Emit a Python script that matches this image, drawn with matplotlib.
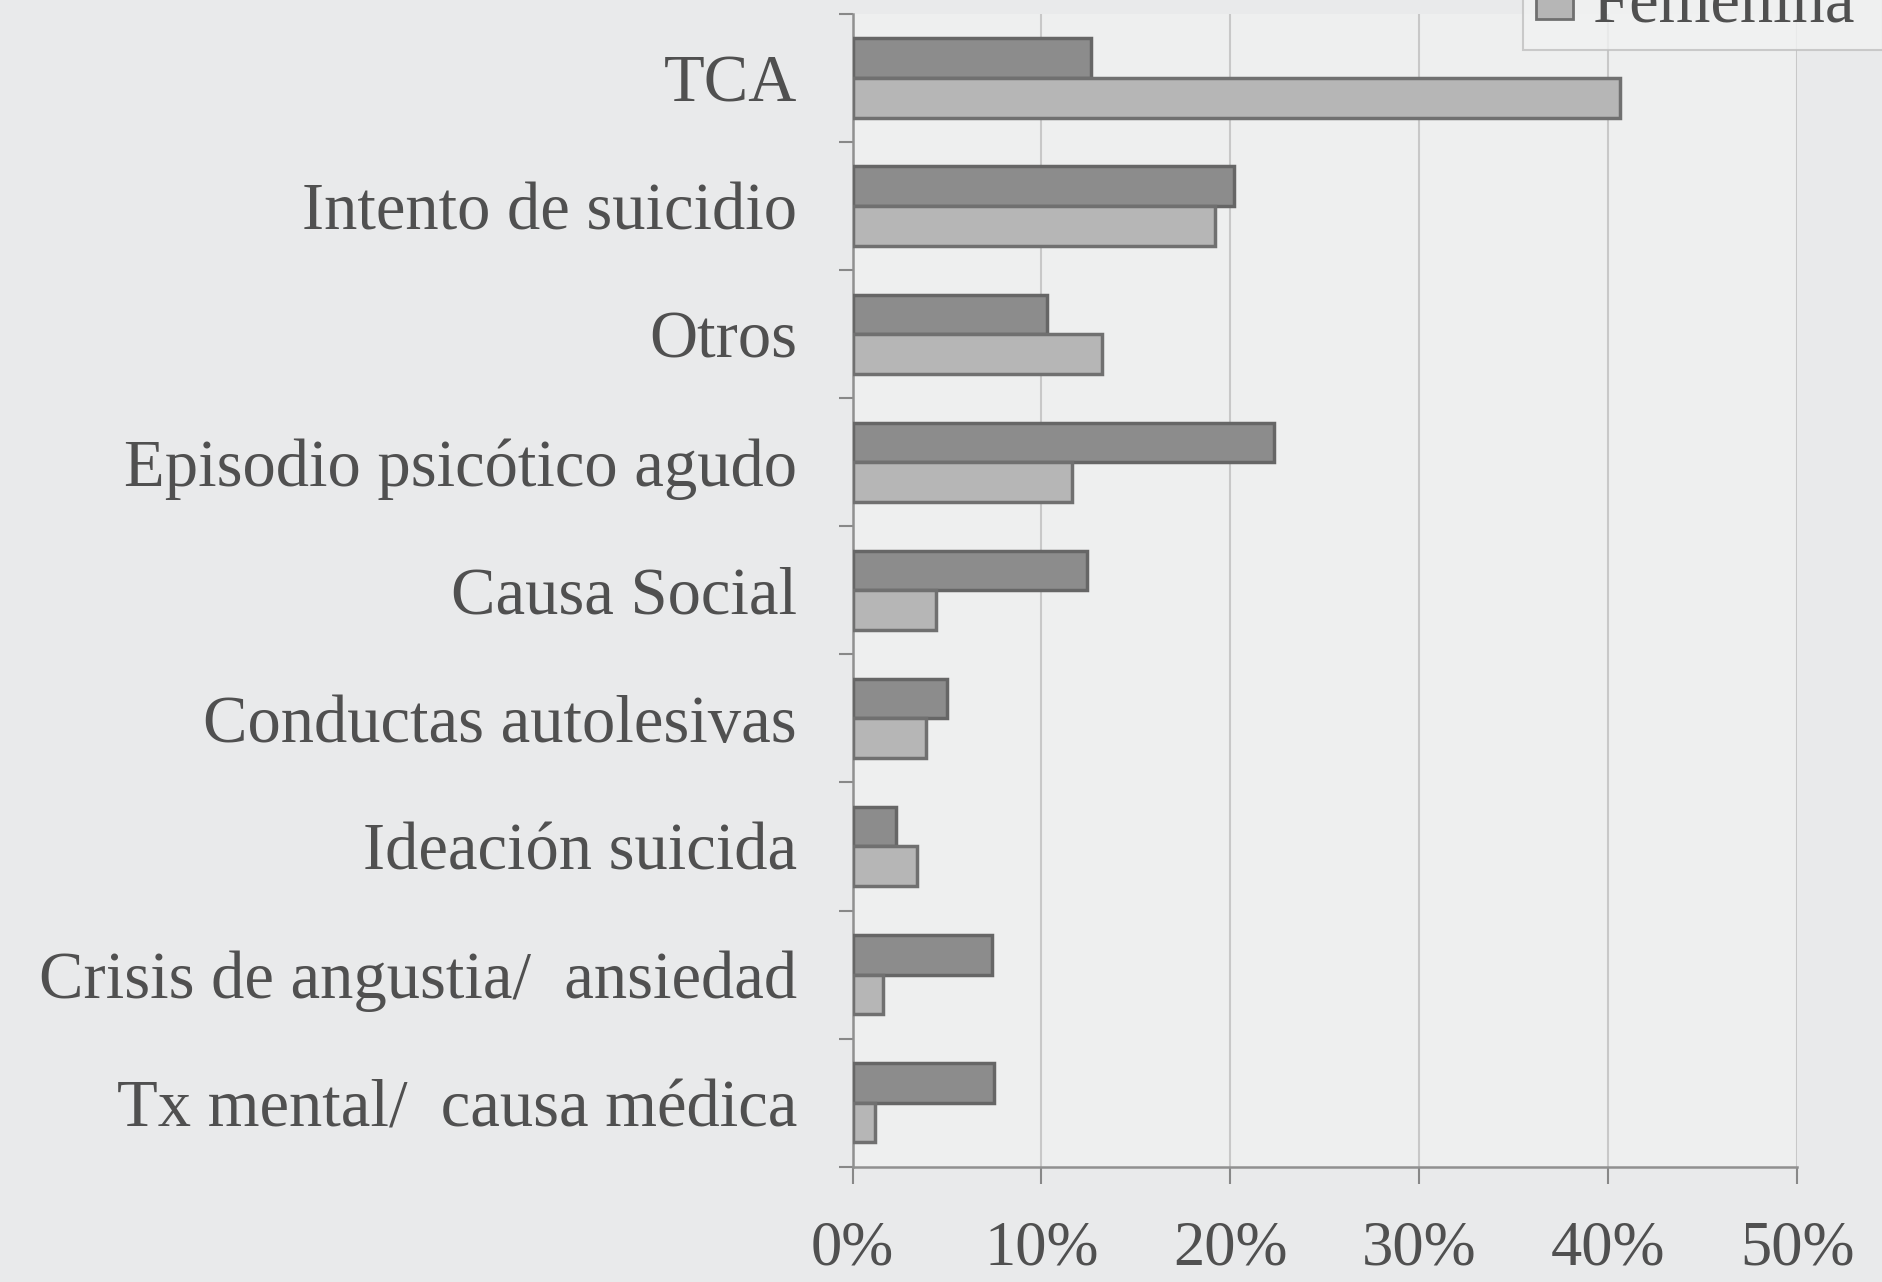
import numpy as np
import matplotlib.pyplot as plt
from matplotlib.patches import Patch

categorias = ['TCA', 'Intento de suicidio', 'Otros', 'Episodio psicótico agudo',
              'Causa Social', 'Conductas autolesivas', 'Ideación suicida',
              'Crisis de angustia/  ansiedad', 'Tx mental/  causa médica']
masculina = [12.6, 20.2, 10.3, 22.3, 12.4, 5.0, 2.3, 7.4, 7.5]
femenina = [40.6, 19.2, 13.2, 11.6, 4.4, 3.9, 3.4, 1.6, 1.2]
xticks = [0, 10, 20, 30, 40, 50]

plt.rcParams['font.family'] = ['Liberation Serif', 'DejaVu Serif']
txt = '#505050'
bg = '#e9eaeb'

fig = plt.figure(figsize=(18.82, 12.82), dpi=100, facecolor=bg)
ax = fig.add_axes([0.453, 0.09, 0.502, 0.899], facecolor='#eeefef')

y = np.arange(len(categorias))
h = 0.31
ax.barh(y - h / 2, masculina, height=h, color='#8c8c8c', edgecolor='#666666', lw=2.5, zorder=3)
ax.barh(y + h / 2, femenina, height=h, color='#b6b6b6', edgecolor='#707070', lw=2.5, zorder=3)

ax.set_xlim(0, 50)
ax.set_ylim(len(categorias) - 0.5, -0.5)

ax.set_xticks(xticks)
ax.set_xticklabels([f'{v}%' for v in xticks], fontsize=45, color=txt)
ax.set_yticks(y)
ax.set_yticklabels(categorias, fontsize=48, color=txt)
ax.set_yticks(np.arange(len(categorias) + 1) - 0.5, minor=True)

ax.tick_params(axis='x', direction='out', length=12, width=1.5, color='#888888', pad=27)
ax.tick_params(axis='y', which='major', length=0, pad=40)
ax.tick_params(axis='y', which='minor', length=10, width=1.5, color='#888888')

ax.xaxis.grid(True, color='#c8c8c8', lw=1.5, zorder=0)
for s in ['top', 'right']:
    ax.spines[s].set_visible(False)
for s in ['left', 'bottom']:
    ax.spines[s].set_color('#909090')
    ax.spines[s].set_linewidth(1.8)

# legend sits partly above the top edge, as in the photo
handles = [Patch(facecolor='#8c8c8c', edgecolor='#666666', lw=2, label='Masculina'),
           Patch(facecolor='#b6b6b6', edgecolor='#707070', lw=2, label='Femenina')]
leg = fig.legend(handles=handles, loc='lower left', bbox_to_anchor=(0.809, 0.961),
                 borderaxespad=0, fontsize=48, frameon=True, fancybox=False,
                 borderpad=0.2, handlelength=0.55, handleheight=0.55,
                 handletextpad=0.3, labelspacing=0.2)
leg.get_frame().set_facecolor('#f1f2f2')
leg.get_frame().set_edgecolor('#c0c0c0')
leg.get_frame().set_linewidth(1.5)
for t in leg.get_texts():
    t.set_color(txt)

plt.savefig('out.png', dpi=100, facecolor=bg)
